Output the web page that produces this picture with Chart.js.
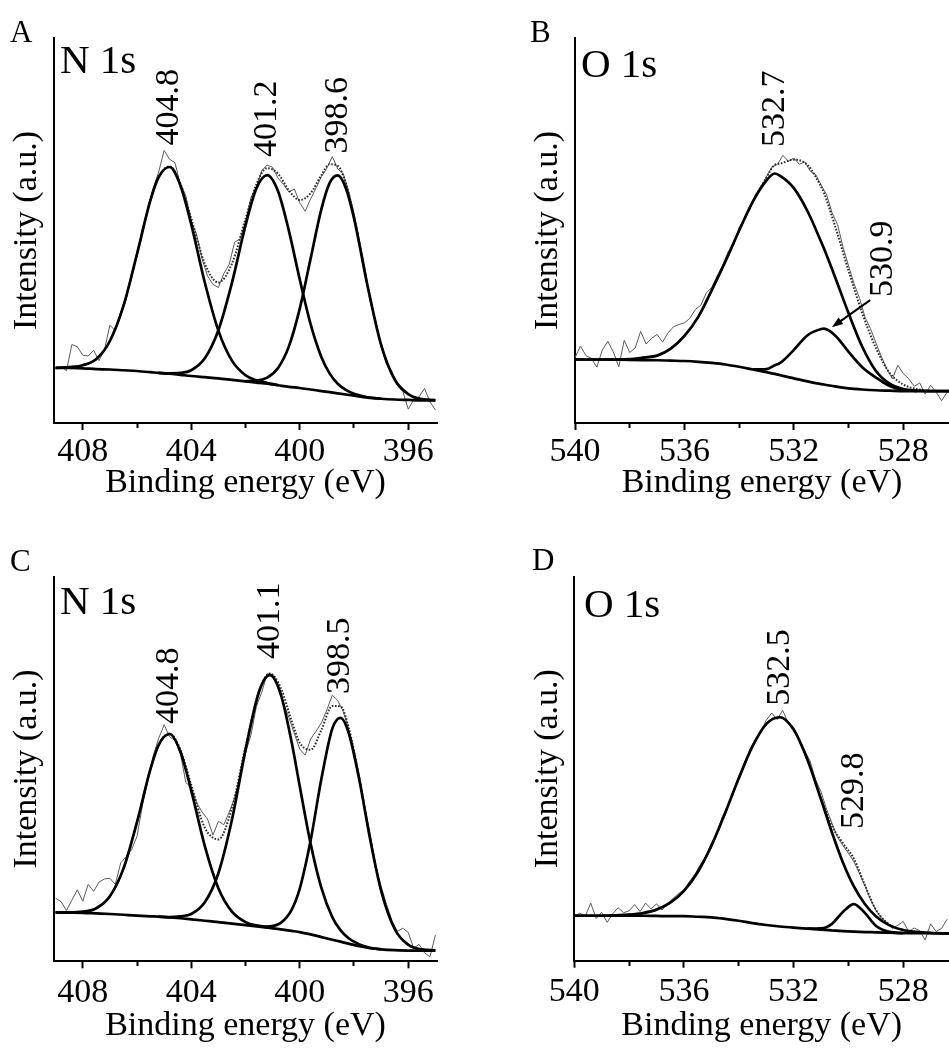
<!DOCTYPE html>
<html>
<head>
<meta charset="utf-8">
<title>XPS N 1s and O 1s spectra</title>
<script src="https://cdn.jsdelivr.net/npm/chart.js@4.4.1/dist/chart.umd.min.js"></script>
<style>
  html, body { margin: 0; padding: 0; background: #fff; }
  body { width: 949px; height: 1048px; position: relative; overflow: hidden;
         font-family: "Liberation Serif", "Times New Roman", serif; color: #000; }
  canvas.panel { position: absolute; }
  .letter { position: absolute; font-size: 31px; line-height: 1; }
  .core { position: absolute; font-size: 41px; line-height: 1; white-space: pre; }
</style>
</head>
<body>
<canvas id="chartA" class="panel" width="475" height="524" style="left:0;top:0"></canvas>
<canvas id="chartB" class="panel" width="474" height="524" style="left:475px;top:0"></canvas>
<canvas id="chartC" class="panel" width="475" height="524" style="left:0;top:524px"></canvas>
<canvas id="chartD" class="panel" width="474" height="524" style="left:475px;top:524px"></canvas>

<div class="letter" style="left:10px;top:16px">A</div>
<div class="letter" style="left:530px;top:16px">B</div>
<div class="letter" style="left:10px;top:545px">C</div>
<div class="letter" style="left:532px;top:544px">D</div>
<div class="core" style="left:60px;top:39px">N 1s</div>
<div class="core" style="left:581px;top:43px">O 1s</div>
<div class="core" style="left:60px;top:580px">N 1s</div>
<div class="core" style="left:584px;top:583px">O 1s</div>

<script>
// ---------- Panel A: N 1s ----------
const aFitEnergy = [409, 408.5, 408, 407.5, 407, 406.5, 406, 405.5, 405.2, 404.8, 404.4, 404, 403.5, 403, 402.5, 402, 401.6, 401.2, 400.8, 400.4, 400, 399.6, 399.2, 398.9, 398.6, 398.3, 398, 397.5, 397, 396.5, 396, 395.5, 395];
const aBackground = [14.3, 14.3, 14.2, 14.0, 13.9, 13.7, 13.5, 13.2, 13.0, 12.8, 12.5, 12.2, 11.9, 11.6, 11.2, 10.8, 10.5, 10.2, 9.8, 9.4, 9.1, 8.7, 8.3, 8.0, 7.7, 7.4, 7.1, 6.6, 6.3, 6.1, 6.0, 5.9, 5.9];
const aPeak404 = [14.3, 14.5, 15.0, 16.6, 21.3, 30.4, 43.9, 58.0, 63.9, 66.5, 61.7, 51.6, 36.5, 24.0, 16.2, 12.4, 11.1, 10.4, 9.85, null, null, null, null, null, null, null, null, null, null, null, null, null, null];
const aPeak401 = [null, null, null, null, null, null, null, null, 13.0, 12.9, 13.0, 13.7, 16.8, 24.1, 36.4, 51.3, 60.9, 64.4, 60.2, 49.9, 37.3, 25.7, 17.1, 12.9, 10.2, 8.6, 7.6, 6.7, 6.3, null, null, null, null];
const aPeak398 = [null, null, null, null, null, null, null, null, null, null, null, null, null, null, null, 10.9, 11.0, 11.8, 14.3, 19.9, 29.7, 42.7, 55.6, 62.3, 64.3, 61.0, 53.2, 35.6, 20.3, 11.3, 7.5, 6.2, 5.95];
const aEnvelope = [14.3, 14.5, 15.0, 16.6, 21.3, 30.4, 43.9, 58.0, 63.9, 66.65, 62.2, 53.1, 41.4, 36.5, 41.4, 53.0, 62.0, 66.2, 64.75, 60.4, 57.9, 59.7, 64.4, 67.2, 66.8, 62.2, 53.7, 35.7, 20.3, 11.3, 7.5, 6.2, 5.95];
// measured counts, 409.0 eV down to 395.0 eV every 0.2 eV
const aRaw = [14.1, 14.6, 13.6, 20.4, 19.8, 17.6, 17.4, 18.9, 16.2, 19.0,
  25.4, 24.0, 28.6, 32.0, 38.9, 43.2, 50.6, 55.0, 61.0, 65.2,
  70.8, 68.5, 67.6, 62.0, 59.0, 52.4, 48.9, 42.6, 38.2, 36.0,
  35.2, 38.8, 41.2, 47.0, 47.8, 52.3, 58.5, 61.2, 65.6, 67.0,
  66.4, 63.6, 62.0, 60.0, 60.8, 57.2, 55.0, 58.2, 61.0, 64.0,
  66.2, 69.2, 66.0, 64.8, 60.3, 54.5, 47.5, 40.4, 31.5, 26.5,
  19.8, 15.2, 13.4, 9.8, 8.2, 3.6, 6.0, 6.8, 9.0, 5.5,
  3.4];
const aPeakCenters = [404.8, 401.2, 398.6];
const aLabelBase = [72.1, 69.1, 70.0];

// ---------- Panel B: O 1s ----------
const bFitEnergy = [540, 539, 538, 537.5, 537, 536.5, 536, 535.5, 535, 534.5, 534, 533.5, 533, 532.7, 532.5, 532, 531.5, 531, 530.9, 530.5, 530, 529.5, 529, 528.5, 528, 527.5, 527, 526.3];
const bBackground = [16.5, 16.5, 16.4, 16.35, 16.3, 16.2, 16.1, 15.9, 15.6, 15.2, 14.6, 13.9, 13.2, 12.75, 12.4, 11.6, 10.8, 10.1, 10.0, 9.5, 9.0, 8.7, 8.5, 8.4, 8.3, 8.3, 8.3, 8.3];
const bPeak532 = [16.5, 16.5, 16.6, 17.0, 17.5, 19.3, 22.6, 27.5, 34.5, 42.0, 50.0, 57.5, 63.0, 64.8, 64.2, 61.0, 55.0, 47.0, 45.3, 38.0, 28.5, 19.8, 13.5, 10.2, 8.8, 8.4, 8.3, 8.3];
const bPeak530 = [null, null, null, null, null, null, null, null, null, null, null, 13.9, 14.0, 15.0, 15.6, 19.0, 22.8, 24.4, 24.5, 22.8, 18.5, 14.5, 11.8, 9.6, 8.6, 8.3, null, null];
const bEnvelope = [16.5, 16.5, 16.6, 17.0, 17.5, 19.3, 22.6, 27.5, 34.5, 42.0, 50.0, 57.5, 63.8, 67.05, 67.4, 68.4, 67.0, 61.3, 59.8, 51.3, 39.5, 28.5, 19.5, 13.0, 10.0, 8.8, 8.4, 8.3];
// measured counts, 540.0 eV down to 526.4 eV every 0.2 eV
const bRaw = [17.0, 20.0, 17.5, 16.8, 14.5, 19.0, 21.2, 18.5, 14.6, 21.5,
  18.3, 19.5, 23.8, 20.5, 22.0, 23.0, 21.0, 23.4, 25.0, 25.6,
  26.0, 27.2, 29.5, 30.6, 33.8, 35.2, 38.3, 41.0, 44.5, 46.2,
  50.8, 53.0, 55.6, 59.4, 61.0, 64.0, 66.5, 67.2, 69.5, 68.0,
  68.8, 67.2, 67.8, 65.4, 64.5, 61.8, 59.2, 54.5, 51.5, 45.6,
  40.8, 36.2, 32.4, 27.5, 24.5, 20.8, 17.2, 14.0, 11.5, 15.0,
  12.8, 11.5, 9.5, 10.4, 7.5, 9.8, 8.0, 5.8, 8.0];
const bPeakCenters = [532.7, 530.9];
const bLabelAt = [532.7, 528.73];
const bLabelBase = [71.7, 32.7];
const bArrowFrom = [529.21, 31.9];
const bArrowTo = [530.61, 24.9];

// ---------- Panel C: N 1s ----------
const cFitEnergy = [409, 408.5, 408, 407.5, 407, 406.5, 406, 405.5, 405.2, 404.8, 404.4, 404, 403.5, 403, 402.5, 402, 401.5, 401.1, 400.7, 400.3, 400, 399.6, 399.2, 398.8, 398.5, 398.2, 397.8, 397.4, 397, 396.5, 396, 395.5, 395];
const cBackground = [12.7, 12.65, 12.6, 12.45, 12.3, 12.1, 11.9, 11.7, 11.6, 11.4, 11.2, 10.9, 10.55, 10.2, 9.8, 9.4, 9.0, 8.7, 8.3, 7.9, 7.6, 7.0, 6.3, 5.6, 5.1, 4.6, 3.9, 3.4, 3.1, 2.9, 2.8, 2.8, 2.8];
const cPeak404 = [12.7, 12.7, 12.9, 13.8, 16.9, 24.1, 36.2, 50.1, 56.3, 59.1, 54.5, 44.4, 29.95, 19.0, 12.9, 10.2, 9.2, 8.75, null, null, null, null, null, null, null, null, null, null, null, null, null, null, null];
const cPeak401 = [null, null, null, null, null, null, null, null, 11.6, 11.5, 11.7, 12.3, 15.35, 22.9, 36.8, 54.9, 70.1, 74.4, 69.4, 57.0, 45.5, 30.6, 19.0, 11.5, 8.1, 6.0, 4.4, 3.5, 3.1, null, null, null, null];
const cPeak398 = [null, null, null, null, null, null, null, null, null, null, null, null, null, null, null, null, 9.0, 9.1, 10.0, 13.4, 18.9, 31.4, 47.5, 60.5, 63.3, 59.5, 47.0, 31.6, 18.4, 8.4, 4.3, 3.1, 2.85];
const cEnvelope = [12.7, 12.7, 12.9, 13.8, 16.9, 24.1, 36.2, 50.1, 56.3, 59.2, 55.0, 45.8, 34.75, 31.7, 39.9, 55.8, 70.3, 74.85, 71.1, 62.5, 56.8, 55.0, 60.2, 66.4, 66.3, 60.9, 47.5, 31.7, 18.4, 8.4, 4.3, 3.1, 2.85];
// measured counts, 409.0 eV down to 395.0 eV every 0.2 eV
const cRaw = [16.4, 15.5, 13.2, 15.9, 18.6, 15.6, 20.0, 18.2, 20.6, 21.4,
  21.6, 20.0, 25.6, 27.2, 29.0, 32.5, 40.5, 47.0, 53.5, 58.0,
  61.5, 58.4, 57.4, 54.0, 46.5, 45.2, 41.2, 38.8, 37.0, 32.8,
  36.4, 35.5, 38.8, 42.5, 48.0, 54.2, 58.8, 66.2, 70.0, 74.8,
  74.6, 72.0, 67.2, 63.4, 59.2, 55.2, 53.6, 57.8, 59.8, 62.0,
  65.4, 69.2, 67.8, 65.0, 60.5, 54.6, 48.2, 39.8, 33.0, 24.8,
  19.5, 14.8, 10.6, 7.8, 8.6, 7.5, 3.4, 4.4, 2.2, 1.2,
  6.8];
const cPeakCenters = [404.8, 401.1, 398.5];
const cLabelBase = [61.7, 78.6, 69.5];

// ---------- Panel D: O 1s ----------
const dFitEnergy = [540, 539, 538, 537.5, 537, 536.5, 536, 535.5, 535, 534.5, 534, 533.5, 533, 532.5, 532, 531.5, 531, 530.6, 530.2, 529.8, 529.4, 529, 528.5, 528, 527, 526.3];
const dBackground = [11.7, 11.7, 11.7, 11.7, 11.65, 11.6, 11.6, 11.45, 11.3, 10.9, 10.4, 9.8, 9.3, 8.9, 8.6, 8.35, 8.1, 7.9, 7.7, 7.55, 7.45, 7.4, 7.3, 7.2, 7.15, 7.1];
const dPeak532 = [11.7, 11.7, 12.0, 12.4, 13.3, 15.1, 18.2, 23.05, 29.9, 38.4, 47.5, 55.8, 61.6, 63.4, 60.2, 52.45, 42.0, 33.4, 25.6, 19.35, 14.75, 11.6, 9.2, 8.0, 7.25, 7.1];
const dPeak529 = [null, null, null, null, null, null, null, null, null, null, null, null, null, null, null, 8.35, 8.4, 9.6, 12.7, 14.75, 12.45, 9.1, 7.5, 7.2, null, null];
const dEnvelope = [11.7, 11.7, 12.0, 12.4, 13.3, 15.1, 18.2, 23.05, 29.9, 38.4, 47.5, 55.8, 61.6, 63.4, 60.2, 52.45, 42.3, 35.1, 30.6, 26.55, 19.75, 13.3, 9.4, 8.0, 7.25, 7.1];
// measured counts, 540.0 eV down to 526.4 eV every 0.2 eV
const dRaw = [11.5, 12.4, 11.6, 15.0, 11.0, 12.6, 10.0, 12.2, 13.8, 12.5,
  13.0, 14.6, 12.8, 15.0, 13.5, 14.8, 13.2, 14.8, 16.2, 17.5,
  18.4, 20.6, 22.5, 25.0, 27.2, 30.6, 33.0, 37.5, 40.0, 44.2,
  47.8, 50.6, 55.0, 57.6, 59.4, 62.6, 64.5, 62.8, 65.2, 62.0,
  60.8, 57.5, 54.8, 52.0, 47.2, 44.0, 39.5, 35.8, 32.2, 30.0,
  28.0, 25.8, 22.8, 19.5, 16.0, 13.2, 11.2, 10.0, 8.4, 9.2,
  10.2, 7.6, 8.5, 7.8, 5.4, 9.6, 7.6, 8.4, 10.8];
const dPeakCenters = [532.5, 529.8];
const dLabelAt = [532.5, 529.8];
const dLabelBase = [66.4, 34.3];

// Axis tick positions (every 2 eV, numbered every 4 eV)
const nTicks = [396, 398, 400, 402, 404, 406, 408];
const oTicks = [528, 530, 532, 534, 536, 538, 540];

// ---------- helpers ----------
const FONT = '"Liberation Serif", "Times New Roman", serif';
Chart.defaults.font.family = FONT;
Chart.defaults.color = '#000';

function pairs(energy, values) {
  return energy.map((e, i) => ({ x: e, y: values[i] }));
}
function sampleEnergies(start, step, n) {
  const out = [];
  for (let i = 0; i < n; i++) out.push(+(start + step * i).toFixed(2));
  return out;
}
function fitSet(energy, values) {
  return { data: pairs(energy, values), borderColor: '#000', borderWidth: 2.7,
           pointRadius: 0, cubicInterpolationMode: 'monotone', spanGaps: false, fill: false };
}
function envelopeSet(energy, values) {
  return { data: pairs(energy, values), borderColor: '#2a2a2a', borderWidth: 2,
           borderDash: [1.6, 1.6], pointRadius: 0, cubicInterpolationMode: 'monotone', fill: false };
}
function rawSet(energy, values) {
  return { data: pairs(energy, values), borderColor: '#5a5a5a', borderWidth: 1,
           pointRadius: 0, tension: 0, fill: false };
}

// Rotated peak-position labels and the pointer arrow
const peakLabels = {
  id: 'peakLabels',
  afterDatasetsDraw(chart, args, opts) {
    const { ctx, scales: { x, y } } = chart;
    ctx.save();
    ctx.font = '34px ' + FONT;
    ctx.fillStyle = '#000';
    ctx.textAlign = 'left';
    ctx.textBaseline = 'middle';
    (opts.labels || []).forEach(l => {
      ctx.save();
      ctx.translate(x.getPixelForValue(l.at), y.getPixelForValue(l.base));
      ctx.rotate(-Math.PI / 2);
      ctx.fillText(l.text, 0, 0);
      ctx.restore();
    });
    if (opts.arrow) {
      const x0 = x.getPixelForValue(opts.arrow.from[0]), y0 = y.getPixelForValue(opts.arrow.from[1]);
      const x1 = x.getPixelForValue(opts.arrow.to[0]), y1 = y.getPixelForValue(opts.arrow.to[1]);
      const ang = Math.atan2(y1 - y0, x1 - x0);
      const head = 11, half = 4;
      ctx.strokeStyle = '#000';
      ctx.lineWidth = 2;
      ctx.beginPath();
      ctx.moveTo(x0, y0);
      ctx.lineTo(x1 - Math.cos(ang) * head * 0.8, y1 - Math.sin(ang) * head * 0.8);
      ctx.stroke();
      ctx.beginPath();
      ctx.moveTo(x1, y1);
      ctx.lineTo(x1 - Math.cos(ang) * head - Math.sin(ang) * half, y1 - Math.sin(ang) * head + Math.cos(ang) * half);
      ctx.lineTo(x1 - Math.cos(ang) * head + Math.sin(ang) * half, y1 - Math.sin(ang) * head - Math.cos(ang) * half);
      ctx.closePath();
      ctx.fillStyle = '#000';
      ctx.fill();
    }
    ctx.restore();
  }
};

function makeChart(id, cfg) {
  const tickVals = cfg.ticks;
  return new Chart(document.getElementById(id), {
    type: 'line',
    data: { datasets: cfg.datasets },
    options: {
      responsive: false,
      animation: false,
      events: [],
      layout: { padding: { top: cfg.padTop, right: cfg.padRight, left: 0, bottom: 0 } },
      plugins: {
        legend: { display: false },
        tooltip: { enabled: false },
        peakLabels: { labels: cfg.labels, arrow: cfg.arrow }
      },
      scales: {
        x: {
          type: 'linear', position: 'bottom', reverse: true,
          min: cfg.xMin, max: cfg.xMax,
          afterFit: s => { s.height = cfg.xHeight; },
          afterBuildTicks: s => { s.ticks = tickVals.map(v => ({ value: v })); },
          ticks: {
            autoSkip: false, maxRotation: 0, padding: cfg.tickPad,
            font: { size: 34 }, color: '#000',
            callback: v => (v % 4 === 0 ? String(v) : '')
          },
          grid: {
            drawOnChartArea: false, drawTicks: true, tickLength: 7,
            tickWidth: 2, tickColor: '#000',
            tickBorderDash: ctx => (ctx.tick && ctx.tick.value % 4 !== 0 ? [4, 30] : [])
          },
          border: { display: true, color: '#000', width: 2 },
          title: { display: true, text: 'Binding energy (eV)', font: { size: 34 }, color: '#000',
                   padding: { top: 0, bottom: cfg.xTitlePad } }
        },
        y: {
          type: 'linear', min: 0, max: 100,
          afterFit: s => { s.width = cfg.yWidth; },
          ticks: { display: false },
          grid: { drawOnChartArea: false, drawTicks: false },
          border: { display: true, color: '#000', width: 2 },
          title: { display: true, text: 'Intensity (a.u.)', font: { size: 34 }, color: '#000',
                   padding: { top: cfg.yTitlePad, bottom: 0 } }
        }
      }
    },
    plugins: [peakLabels]
  });
}

function labelsFor(centers, at, base) {
  return centers.map((c, i) => ({ text: c.toFixed(1), at: at[i], base: base[i] }));
}

makeChart('chartA', {
  ticks: nTicks, xMin: 394.94, xMax: 409.06,
  padTop: 38, padRight: 38, xHeight: 101, yWidth: 54,
  tickPad: 1.5, xTitlePad: 21, yTitlePad: 7,
  labels: labelsFor(aPeakCenters, aPeakCenters, aLabelBase),
  datasets: [
    fitSet(aFitEnergy, aPeak404), fitSet(aFitEnergy, aPeak401), fitSet(aFitEnergy, aPeak398),
    fitSet(aFitEnergy, aBackground), envelopeSet(aFitEnergy, aEnvelope),
    rawSet(sampleEnergies(409, -0.2, aRaw.length), aRaw)
  ]
});

makeChart('chartB', {
  ticks: oTicks, xMin: 526.33, xMax: 540,
  padTop: 38, padRight: 0, xHeight: 101, yWidth: 100,
  tickPad: 1.5, xTitlePad: 21, yTitlePad: 52.6,
  labels: labelsFor(bPeakCenters, bLabelAt, bLabelBase),
  arrow: { from: bArrowFrom, to: bArrowTo },
  datasets: [
    fitSet(bFitEnergy, bPeak532), fitSet(bFitEnergy, bPeak530),
    fitSet(bFitEnergy, bBackground), envelopeSet(bFitEnergy, bEnvelope),
    rawSet(sampleEnergies(540, -0.2, bRaw.length), bRaw)
  ]
});

makeChart('chartC', {
  ticks: nTicks, xMin: 394.94, xMax: 409.06,
  padTop: 52.7, padRight: 38, xHeight: 86.7, yWidth: 54,
  tickPad: 4, xTitlePad: 1.5, yTitlePad: 6.3,
  labels: labelsFor(cPeakCenters, cPeakCenters, cLabelBase),
  datasets: [
    fitSet(cFitEnergy, cPeak404), fitSet(cFitEnergy, cPeak401), fitSet(cFitEnergy, cPeak398),
    fitSet(cFitEnergy, cBackground), envelopeSet(cFitEnergy, cEnvelope),
    rawSet(sampleEnergies(409, -0.2, cRaw.length), cRaw)
  ]
});

makeChart('chartD', {
  ticks: oTicks, xMin: 526.33, xMax: 540,
  padTop: 52.7, padRight: 0, xHeight: 87.3, yWidth: 99.3,
  tickPad: 4, xTitlePad: 1.5, yTitlePad: 52.9,
  labels: labelsFor(dPeakCenters, dLabelAt, dLabelBase),
  datasets: [
    fitSet(dFitEnergy, dPeak532), fitSet(dFitEnergy, dPeak529),
    fitSet(dFitEnergy, dBackground), envelopeSet(dFitEnergy, dEnvelope),
    rawSet(sampleEnergies(540, -0.2, dRaw.length), dRaw)
  ]
});
</script>
</body>
</html>
